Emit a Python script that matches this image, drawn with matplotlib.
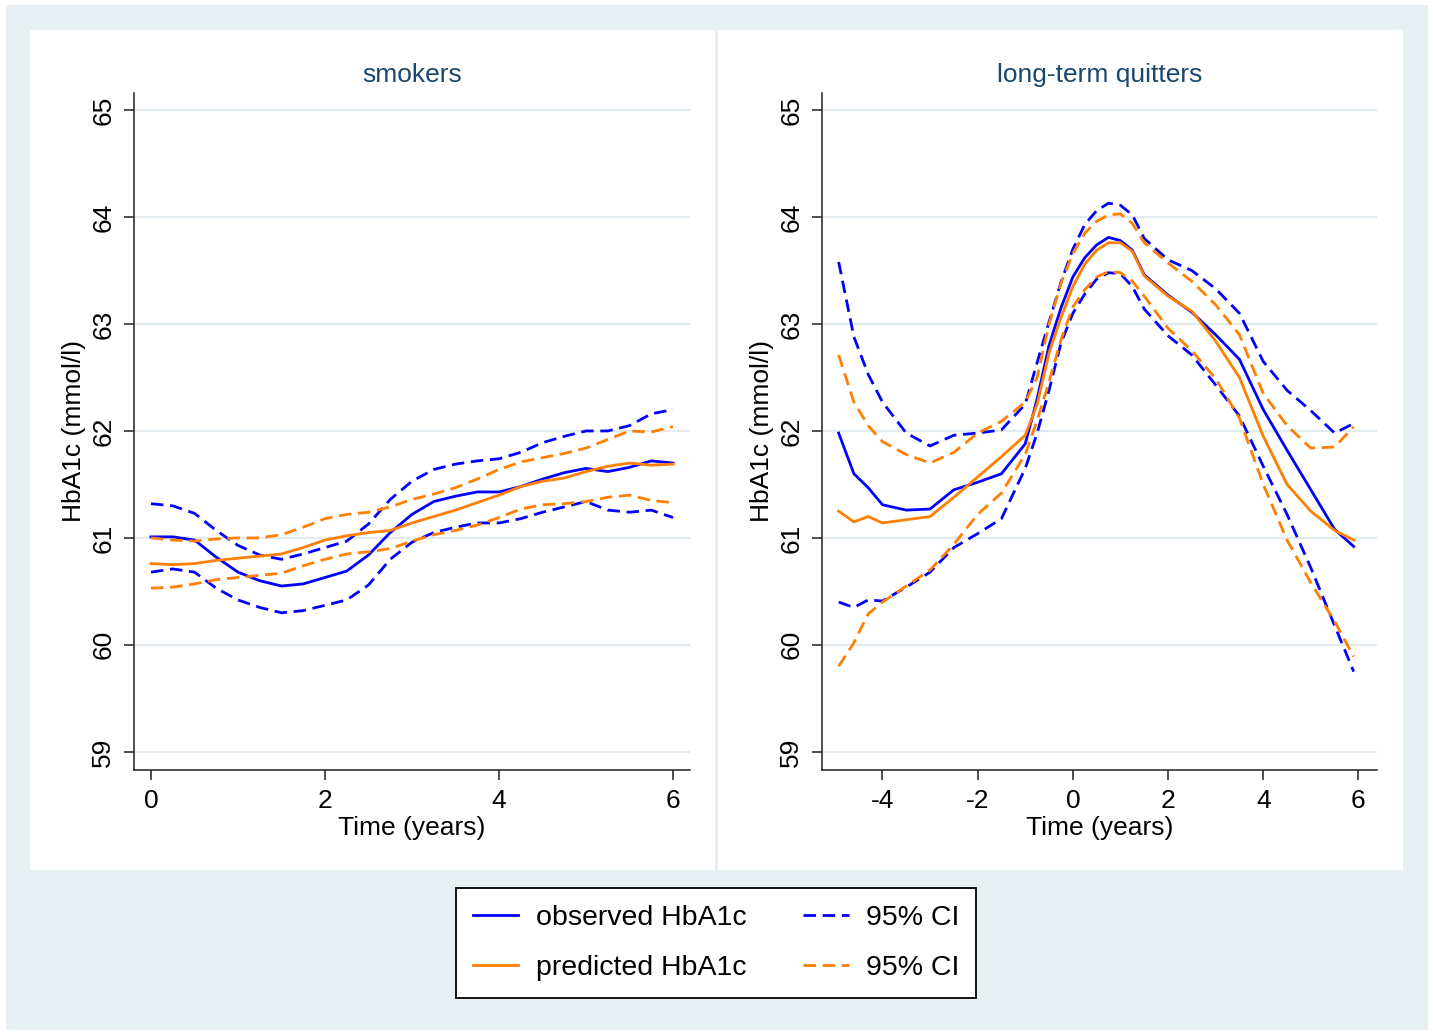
#!/usr/bin/env python3
"""Observed vs predicted HbA1c over time, smokers vs long-term quitters."""

import matplotlib

matplotlib.use("Agg")
import matplotlib.pyplot as plt
from matplotlib.lines import Line2D
from matplotlib.patches import Rectangle

# ---- data ----
t_smk = [0.0, 0.25, 0.5, 0.75, 1.0, 1.25, 1.5, 1.75, 2.0, 2.25, 2.5, 2.75, 3.0,
         3.25, 3.5, 3.75, 4.0, 4.25, 4.5, 4.75, 5.0, 5.25, 5.5, 5.75, 6.0]
obs_smk = [61.01, 61.01, 60.98, 60.82, 60.68, 60.60, 60.55, 60.57, 60.63, 60.69, 60.84,
           61.05, 61.22, 61.34, 61.39, 61.43, 61.43, 61.48, 61.55, 61.61, 61.65, 61.62,
           61.66, 61.72, 61.70]
obs_hi_smk = [61.32, 61.30, 61.23, 61.07, 60.93, 60.84, 60.80, 60.85, 60.91, 60.97, 61.13,
              61.36, 61.53, 61.64, 61.69, 61.72, 61.74, 61.80, 61.89, 61.95, 62.00, 62.00,
              62.05, 62.16, 62.20]
obs_lo_smk = [60.68, 60.71, 60.68, 60.53, 60.42, 60.35, 60.30, 60.32, 60.37, 60.42, 60.56,
              60.80, 60.96, 61.05, 61.10, 61.14, 61.14, 61.18, 61.24, 61.29, 61.34, 61.26,
              61.24, 61.26, 61.19]
pred_smk = [60.76, 60.75, 60.76, 60.79, 60.81, 60.83, 60.85, 60.91, 60.98, 61.02, 61.05,
            61.07, 61.14, 61.20, 61.26, 61.33, 61.40, 61.48, 61.53, 61.56, 61.62, 61.67,
            61.70, 61.68, 61.69]
pred_hi_smk = [61.00, 60.98, 60.97, 60.99, 61.00, 61.00, 61.03, 61.10, 61.18, 61.22, 61.24,
               61.29, 61.36, 61.41, 61.47, 61.55, 61.64, 61.71, 61.75, 61.79, 61.84, 61.92,
               62.00, 61.99, 62.04]
pred_lo_smk = [60.53, 60.54, 60.57, 60.61, 60.63, 60.65, 60.67, 60.74, 60.80, 60.85, 60.87,
               60.90, 60.97, 61.03, 61.07, 61.12, 61.19, 61.27, 61.31, 61.32, 61.34, 61.38,
               61.40, 61.35, 61.33]

t_qt = [-4.92, -4.6, -4.3, -4.0, -3.5, -3.0, -2.5, -2.0, -1.5, -1.0, -0.75, -0.5, -0.25,
        0.0, 0.25, 0.5, 0.75, 1.0, 1.25, 1.5, 2.0, 2.5, 3.0, 3.5, 4.0, 4.5, 5.0, 5.5, 5.9]
obs_qt = [61.98, 61.60, 61.47, 61.31, 61.26, 61.27, 61.45, 61.52, 61.60, 61.88, 62.30,
          62.80, 63.15, 63.44, 63.62, 63.74, 63.81, 63.78, 63.69, 63.46, 63.27, 63.11,
          62.90, 62.67, 62.20, 61.82, 61.45, 61.08, 60.92]
obs_hi_qt = [63.58, 62.88, 62.53, 62.27, 61.98, 61.86, 61.96, 61.98, 62.01, 62.25, 62.64,
             63.02, 63.39, 63.70, 63.93, 64.06, 64.13, 64.11, 64.02, 63.80, 63.60, 63.50,
             63.33, 63.10, 62.65, 62.38, 62.19, 61.98, 62.07]
obs_lo_qt = [60.40, 60.35, 60.42, 60.41, 60.54, 60.68, 60.91, 61.04, 61.18, 61.65, 61.98,
             62.38, 62.82, 63.10, 63.28, 63.42, 63.48, 63.47, 63.35, 63.14, 62.89, 62.71,
             62.43, 62.14, 61.67, 61.22, 60.72, 60.18, 59.75]
pred_qt = [61.25, 61.15, 61.20, 61.14, 61.17, 61.20, 61.38, 61.57, 61.76, 61.96, 62.25,
           62.73, 63.06, 63.35, 63.56, 63.69, 63.76, 63.76, 63.68, 63.45, 63.26, 63.12,
           62.84, 62.50, 61.95, 61.50, 61.25, 61.07, 60.98]
pred_hi_qt = [62.71, 62.27, 62.05, 61.90, 61.78, 61.70, 61.80, 61.98, 62.09, 62.27, 62.50,
              63.00, 63.38, 63.66, 63.85, 63.96, 64.02, 64.03, 63.94, 63.76, 63.57, 63.40,
              63.18, 62.90, 62.35, 62.05, 61.84, 61.85, 62.04]
pred_lo_qt = [59.80, 60.02, 60.29, 60.40, 60.55, 60.70, 60.94, 61.22, 61.42, 61.78, 62.10,
              62.46, 62.85, 63.16, 63.32, 63.44, 63.49, 63.48, 63.40, 63.26, 62.96, 62.75,
              62.49, 62.12, 61.50, 60.98, 60.58, 60.22, 59.89]

yticks = [59, 60, 61, 62, 63, 64, 65]
xticks_smk = [0, 2, 4, 6]
xticks_qt = [-4, -2, 0, 2, 4, 6]

BLUE = "#0000FF"
ORANGE = "#FF7F00"
TITLE_COLOR = "#1A476F"
GRID = "#E2EBEE"
OUTER_BG = "#E8EFF2"
DASH = (4.5, 2.4)

W, H = 1433, 1034
plt.rcParams["font.family"] = ["Liberation Sans", "DejaVu Sans"]
plt.rcParams["axes.unicode_minus"] = False


def px_rect(fig, x0, y0, x1, y1, **kw):
    """Rectangle given in image pixels (origin top-left)."""
    fig.add_artist(Rectangle((x0 / W, 1 - y1 / H), (x1 - x0) / W, (y1 - y0) / H,
                             transform=fig.transFigure, zorder=0, **kw))


def draw_panel(ax, title, t, obs, obs_hi, obs_lo, pred, pred_hi, pred_lo, xticks, xlim):
    lw = 2.0
    ax.plot(t, obs, color=BLUE, lw=lw, zorder=3)
    ax.plot(t, obs_hi, color=BLUE, lw=lw, dashes=DASH, zorder=3)
    ax.plot(t, obs_lo, color=BLUE, lw=lw, dashes=DASH, zorder=3)
    ax.plot(t, pred, color=ORANGE, lw=lw, zorder=3)
    ax.plot(t, pred_hi, color=ORANGE, lw=lw, dashes=DASH, zorder=3)
    ax.plot(t, pred_lo, color=ORANGE, lw=lw, dashes=DASH, zorder=3)

    ax.set_xlim(*xlim)
    ax.set_ylim(58.83, 65.16)
    ax.set_xticks(xticks)
    ax.set_yticks(yticks)
    ax.yaxis.grid(True, color=GRID, lw=1.6)
    ax.set_axisbelow(True)
    for side in ("top", "right"):
        ax.spines[side].set_visible(False)
    for side in ("left", "bottom"):
        ax.spines[side].set_color("#222222")
        ax.spines[side].set_linewidth(1.1)
    ax.tick_params(direction="out", length=7.5, width=1.1, color="#222222",
                   labelsize=19, pad=6)
    ax.tick_params(axis="y", labelrotation=90)
    for lab in ax.get_yticklabels():
        lab.set_va("center")
    ax.set_facecolor("none")
    ax.set_xlabel("Time (years)", fontsize=19, labelpad=2)
    ax.set_ylabel("HbA1c (mmol/l)", fontsize=19)
    ax.yaxis.set_label_coords(-0.086, 0.5)
    ax.set_title(title, fontsize=19, color=TITLE_COLOR, pad=8)


fig = plt.figure(figsize=(W / 100, H / 100), dpi=100)
fig.patch.set_facecolor("white")
px_rect(fig, 6, 5, 1428, 1030, facecolor=OUTER_BG, edgecolor="none")
px_rect(fig, 30, 30, 715, 870, facecolor="white", edgecolor="none")
px_rect(fig, 718, 30, 1403, 870, facecolor="white", edgecolor="none")

ax1 = fig.add_axes([134 / W, 1 - 770 / H, (690 - 134) / W, (770 - 93) / H])
ax2 = fig.add_axes([822 / W, 1 - 770 / H, (1377 - 822) / W, (770 - 93) / H])

draw_panel(ax1, "smokers", t_smk, obs_smk, obs_hi_smk, obs_lo_smk,
           pred_smk, pred_hi_smk, pred_lo_smk, xticks_smk, (-0.195, 6.195))
draw_panel(ax2, "long-term quitters", t_qt, obs_qt, obs_hi_qt, obs_lo_qt,
           pred_qt, pred_hi_qt, pred_lo_qt, xticks_qt, (-5.27, 6.39))

handles = [
    Line2D([], [], color=BLUE, lw=2.0),
    Line2D([], [], color=ORANGE, lw=2.0),
    Line2D([], [], color=BLUE, lw=2.0, dashes=DASH),
    Line2D([], [], color=ORANGE, lw=2.0, dashes=DASH),
]
labels = ["observed HbA1c", "predicted HbA1c", "95% CI", "95% CI"]
leg = fig.legend(handles, labels, ncol=2, loc="center",
                 bbox_to_anchor=(716 / W, 1 - 943 / H), fontsize=20.5,
                 frameon=True, fancybox=False, edgecolor="black", framealpha=1.0,
                 handlelength=1.6, handletextpad=0.6, columnspacing=2.0,
                 labelspacing=0.85, borderpad=0.6)
leg.get_frame().set_linewidth(1.3)

fig.savefig("out.png", dpi=100)
